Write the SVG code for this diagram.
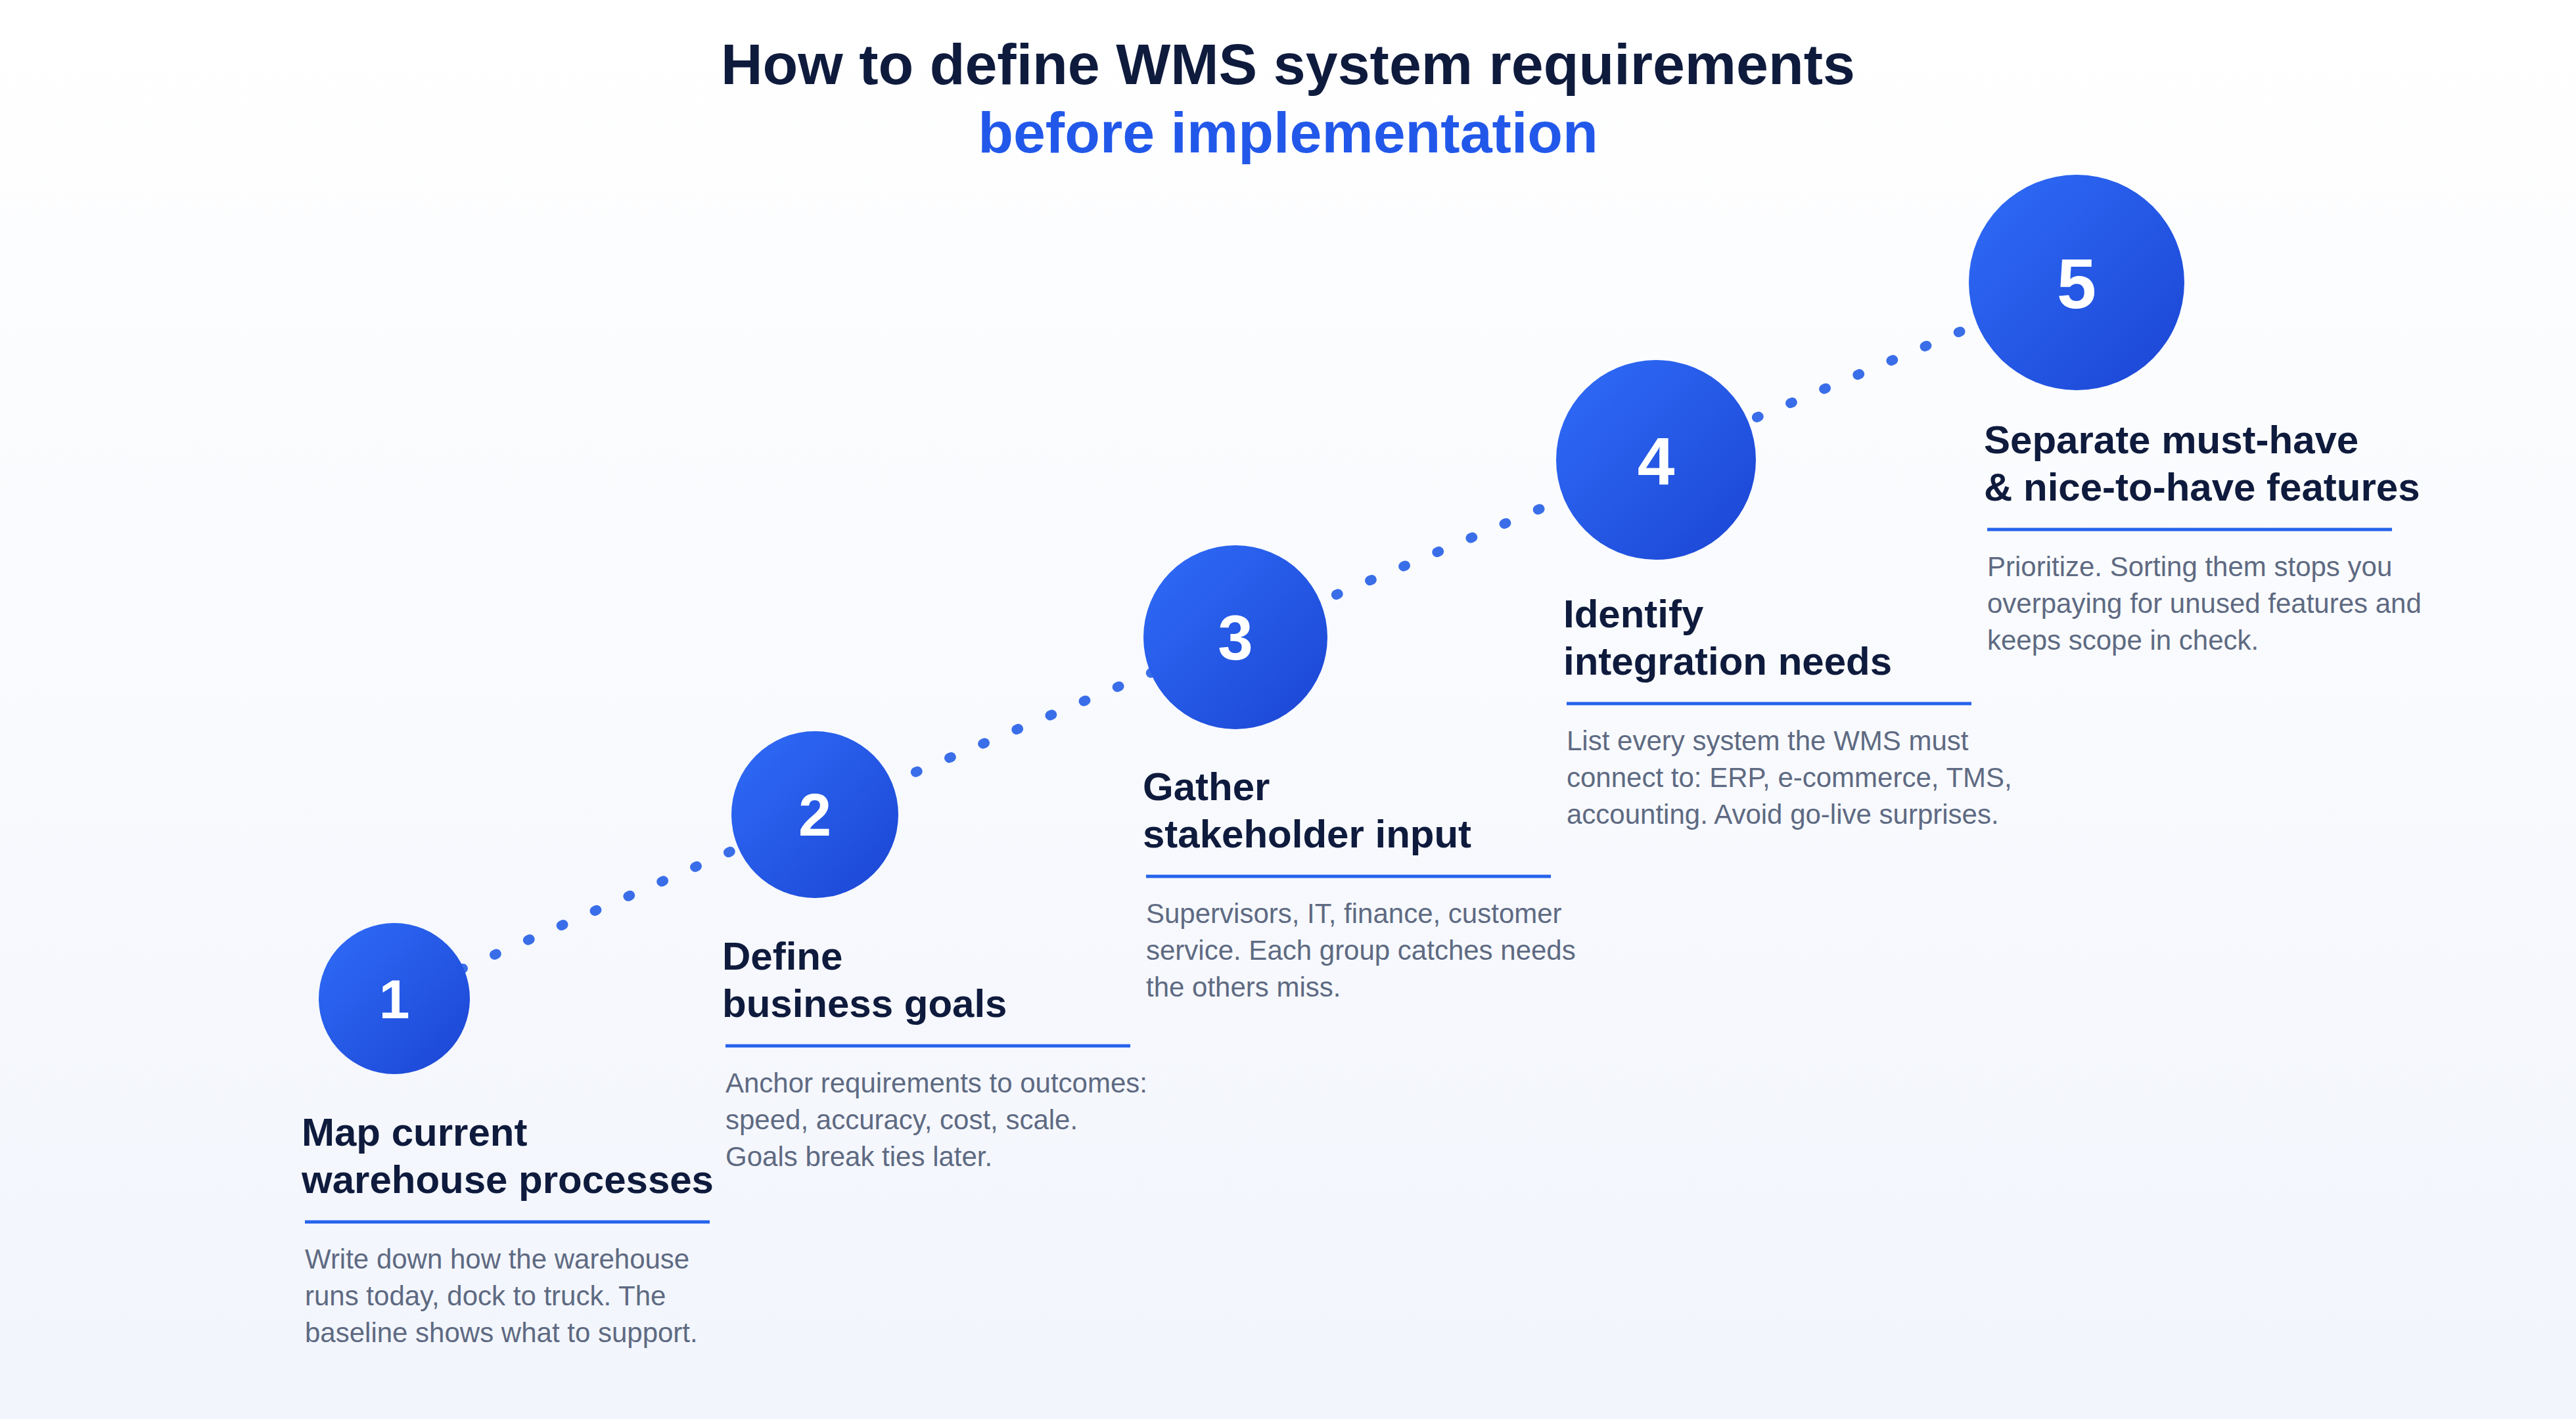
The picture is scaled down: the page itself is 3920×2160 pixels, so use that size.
<svg xmlns="http://www.w3.org/2000/svg" width="3920" height="2160" viewBox="0 0 3920 2160">
  <defs>
    <linearGradient id="bg" x1="0" y1="0" x2="0" y2="1">
      <stop offset="0" stop-color="#ffffff"/>
      <stop offset="1" stop-color="#f2f5fc"/>
    </linearGradient>
    <linearGradient id="disc" x1="0" y1="0" x2="1" y2="1">
      <stop offset="0" stop-color="#2f6cf8"/>
      <stop offset="1" stop-color="#1b45d3"/>
    </linearGradient>
    <style>
      .title { font-family: "Liberation Sans", Arial, sans-serif; font-weight: 700; font-size: 88px; fill: #0f1b3d; }
      .title2 { fill: #2258ea; }
      .disc { fill: url(#disc); }
      .num { font-family: "Liberation Sans", Arial, sans-serif; font-weight: 700; fill: #ffffff; text-anchor: middle; }
      .head { font-family: "Liberation Sans", Arial, sans-serif; font-weight: 700; font-size: 60px; fill: #0f1b3d; }
      .desc { font-family: "Liberation Sans", Arial, sans-serif; font-size: 42px; fill: #5e6a82; }
      .rule { stroke: #2563eb; stroke-width: 5; }
      .dots { fill: none; stroke: #3a6ee9; stroke-width: 15; stroke-linecap: round; stroke-dasharray: 3 52.5; }
    </style>
  </defs>
  <rect x="0" y="0" width="3920" height="2160" fill="url(#bg)"/>

  <g id="title">
    <text class="title" x="1960" y="128" text-anchor="middle">How to define WMS system requirements</text>
    <text class="title title2" x="1960" y="232" text-anchor="middle">before implementation</text>
  </g>

  <g id="connectors">
    <line class="dots" x1="600" y1="1520" x2="1240" y2="1240"/>
    <line class="dots" x1="1240" y1="1240" x2="1880" y2="970"/>
    <line class="dots" x1="1880" y1="970" x2="2520" y2="700"/>
    <line class="dots" x1="2520" y1="700" x2="3160" y2="430"/>
  </g>

  <g id="step1">
    <circle class="disc" cx="600" cy="1520" r="115"/>
    <text class="num" x="600" y="1550" font-size="84">1</text>
    <text class="head" x="459" y="1744">Map current</text>
    <text class="head" x="459" y="1816">warehouse processes</text>
    <line class="rule" x1="464" y1="1860" x2="1080" y2="1860"/>
    <text class="desc" x="464" y="1931">Write down how the warehouse</text>
    <text class="desc" x="464" y="1987">runs today, dock to truck. The</text>
    <text class="desc" x="464" y="2043">baseline shows what to support.</text>
  </g>

  <g id="step2">
    <circle class="disc" cx="1240" cy="1240" r="127"/>
    <text class="num" x="1240" y="1272" font-size="90">2</text>
    <text class="head" x="1099" y="1476">Define</text>
    <text class="head" x="1099" y="1548">business goals</text>
    <line class="rule" x1="1104" y1="1592" x2="1720" y2="1592"/>
    <text class="desc" x="1104" y="1663">Anchor requirements to outcomes:</text>
    <text class="desc" x="1104" y="1719">speed, accuracy, cost, scale.</text>
    <text class="desc" x="1104" y="1775">Goals break ties later.</text>
  </g>

  <g id="step3">
    <circle class="disc" cx="1880" cy="970" r="140"/>
    <text class="num" x="1880" y="1004" font-size="96">3</text>
    <text class="head" x="1739" y="1218">Gather</text>
    <text class="head" x="1739" y="1290">stakeholder input</text>
    <line class="rule" x1="1744" y1="1334" x2="2360" y2="1334"/>
    <text class="desc" x="1744" y="1405">Supervisors, IT, finance, customer</text>
    <text class="desc" x="1744" y="1461">service. Each group catches needs</text>
    <text class="desc" x="1744" y="1517">the others miss.</text>
  </g>

  <g id="step4">
    <circle class="disc" cx="2520" cy="700" r="152"/>
    <text class="num" x="2520" y="737" font-size="102">4</text>
    <text class="head" x="2379" y="955">Identify</text>
    <text class="head" x="2379" y="1027">integration needs</text>
    <line class="rule" x1="2384" y1="1071" x2="3000" y2="1071"/>
    <text class="desc" x="2384" y="1142">List every system the WMS must</text>
    <text class="desc" x="2384" y="1198">connect to: ERP, e-commerce, TMS,</text>
    <text class="desc" x="2384" y="1254">accounting. Avoid go-live surprises.</text>
  </g>

  <g id="step5">
    <circle class="disc" cx="3160" cy="430" r="164"/>
    <text class="num" x="3160" y="469" font-size="108">5</text>
    <text class="head" x="3019" y="690">Separate must-have</text>
    <text class="head" x="3019" y="762">&amp; nice-to-have features</text>
    <line class="rule" x1="3024" y1="806" x2="3640" y2="806"/>
    <text class="desc" x="3024" y="877">Prioritize. Sorting them stops you</text>
    <text class="desc" x="3024" y="933">overpaying for unused features and</text>
    <text class="desc" x="3024" y="989">keeps scope in check.</text>
  </g>
</svg>
